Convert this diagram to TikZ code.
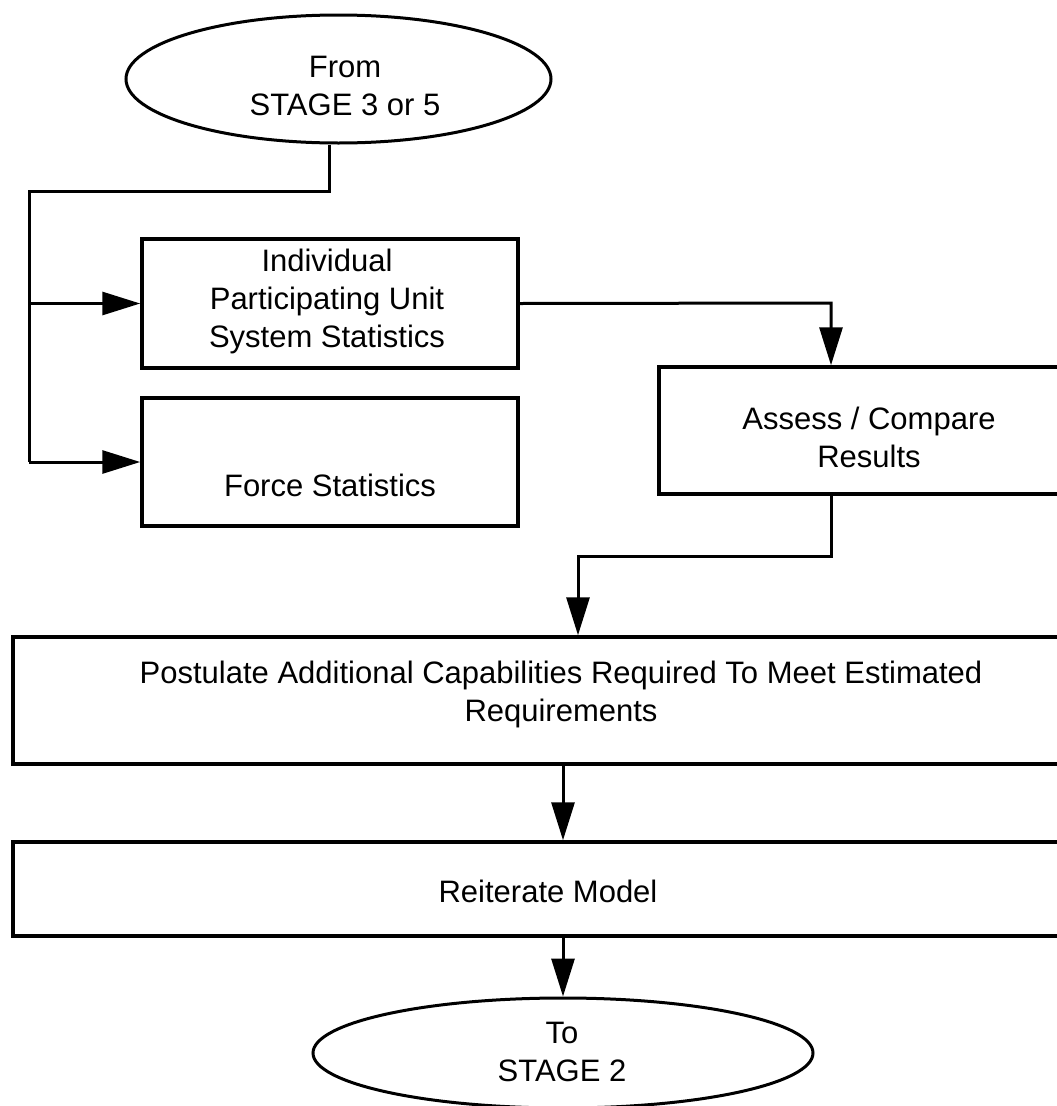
\documentclass[tikz,border=0pt]{standalone}
\usepackage{fontspec}
\setmainfont{Liberation Sans}
\usetikzlibrary{shapes.geometric,arrows.meta}
\tikzset{
  conn/.style={line width=3pt},
  arr/.style={line width=3pt,-{Triangle[length=38pt,width=23pt]}},
  boxshape/.style={draw,rectangle,line width=3.5pt,inner sep=0pt},
  termshape/.style={draw,ellipse,line width=3pt,inner sep=0pt},
  txt/.style={inner sep=0pt,align=center,font=\fontsize{31}{38}\selectfont}
}
\begin{document}
\begin{tikzpicture}[x=1pt,y=-1pt]
\useasboundingbox (0,0) rectangle (1057,1106);
\fill[white] (0,0) rectangle (1057,1106);
\clip (0,0) rectangle (1057,1106);

% shapes
\node[termshape,minimum width=425pt,minimum height=128pt] (e1) at (338.5,79) {};
\node[boxshape,minimum width=376pt,minimum height=129pt] (b1) at (330,303.5) {};
\node[boxshape,minimum width=376pt,minimum height=128pt] (b2) at (330,462) {};
\node[boxshape,minimum width=420pt,minimum height=127pt] (b3) at (869,430.5) {};
\node[boxshape,minimum width=1099pt,minimum height=127pt] (b4) at (562.5,700.5) {};
\node[boxshape,minimum width=1099pt,minimum height=94pt] (b5) at (562.5,889) {};
\node[termshape,minimum width=500pt,minimum height=110pt] (e2) at (563,1053) {};

% texts
\node[txt] (t1) at (345,86) {From\\STAGE 3 or 5};
\node[txt] (t2) at (327,301) {Individual\\Participating Unit\\System Statistics};
\node[txt] (t3) at (330,485) {Force Statistics};
\node[txt] (t4) at (869,437) {Assess / Compare\\Results};
\node[txt] (t5) at (561,694) {Postulate Additional Capabilities Required To Meet Estimated\\Requirements};
\node[txt] (t6) at (548,891) {Reiterate Model};
\node[txt] (t7) at (562,1051.5) {To\\STAGE 2};

% junction coordinates
\coordinate (j1) at (329,191);
\coordinate (lt) at (29,191);
\coordinate (lb) at (29,462);
\coordinate (c3) at (831,303);
\coordinate (c4) at (831,556);
\coordinate (c5) at (578,556);
\coordinate (c6) at (563,800);

% connectors
\draw[conn] (e1.south -| j1) -- (j1) -- (lt) -- (lb);
\draw[arr] (lt |- b1.west) -- (b1.west);
\draw[arr] (lb) -- (b2.west);
\draw[arr] (b1.east) -- (c3) -- (c3 |- b3.north);
\draw[arr] (b3.south -| c4) -- (c4) -- (c5) -- (c5 |- b4.north);
\draw[arr] (b4.south -| c6) -- (c6 |- b5.north);
\draw[arr] (b5.south -| c6) -- (e2.north);
\end{tikzpicture}
\end{document}
